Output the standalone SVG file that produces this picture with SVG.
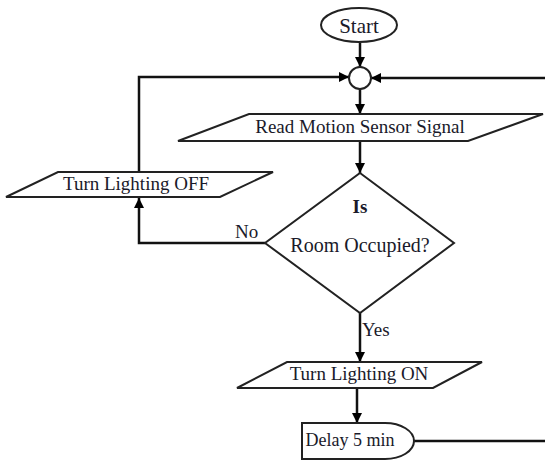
<svg xmlns="http://www.w3.org/2000/svg" width="545" height="461" viewBox="0 0 545 461">
<defs>
<marker id="arr" viewBox="0 0 10 10" refX="10" refY="5" markerWidth="10" markerHeight="10" markerUnits="userSpaceOnUse" orient="auto">
<path d="M0,0 L10,5 L0,10 Z" fill="#000"/>
</marker>
</defs>
<style>
.shape{fill:#fff;stroke:#222;stroke-width:2}
.line{fill:none;stroke:#111;stroke-width:2.5}
.t{font-family:"Liberation Serif","Times New Roman",serif;font-size:19px;fill:#1a1a2a;text-anchor:middle}
.l{font-family:"Liberation Serif","Times New Roman",serif;font-size:19px;fill:#1a1a2a}
</style>
<rect width="545" height="461" fill="#fff"/>
<g id="connectors">
<line class="line" x1="360" y1="43" x2="360" y2="67" marker-end="url(#arr)"/>
<polyline class="line" points="139,197 139,77 349,77" marker-end="url(#arr)"/>
<line class="line" x1="545" y1="78" x2="371" y2="78" marker-end="url(#arr)"/>
<line class="line" x1="360" y1="89" x2="360" y2="114" marker-end="url(#arr)"/>
<line class="line" x1="360" y1="141" x2="360" y2="173" marker-end="url(#arr)"/>
<polyline class="line" points="265,243 139,243 139,198" marker-end="url(#arr)"/>
<line class="line" x1="360" y1="313" x2="360" y2="362" marker-end="url(#arr)"/>
<line class="line" x1="357" y1="388" x2="357" y2="423" marker-end="url(#arr)"/>
<line class="line" x1="414" y1="441" x2="545" y2="441"/>
<text class="l" x="235" y="238">No</text>
<text class="l" x="362" y="336">Yes</text>
</g>
<g id="start">
<ellipse class="shape" cx="359" cy="25" rx="38" ry="17"/>
<text class="t" x="359" y="33" style="font-size:21px">Start</text>
</g>
<g id="junction">
<circle class="shape" cx="360" cy="78" r="11"/>
</g>
<g id="read">
<polygon class="shape" points="249,114 543,114 468,141 178,141"/>
<text class="t" x="360" y="133">Read Motion Sensor Signal</text>
</g>
<g id="decision">
<polygon class="shape" points="360,173 454,243 360,313 265,243"/>
<text class="t" x="360" y="213" style="font-weight:bold">Is</text>
<text class="t" x="360" y="252" style="font-size:20px">Room Occupied?</text>
</g>
<g id="off">
<polygon class="shape" points="58,172 273,172 220,197 6,197"/>
<text class="t" x="136" y="190">Turn Lighting OFF</text>
</g>
<g id="on">
<polygon class="shape" points="287,362 482,362 433,388 237,388"/>
<text class="t" x="359" y="380">Turn Lighting ON</text>
</g>
<g id="delay">
<path class="shape" d="M302,423 L385,423 A29,18 0 0 1 385,459 L302,459 Z"/>
<text class="t" x="350" y="446" style="font-size:18px">Delay 5 min</text>
</g>
</svg>
